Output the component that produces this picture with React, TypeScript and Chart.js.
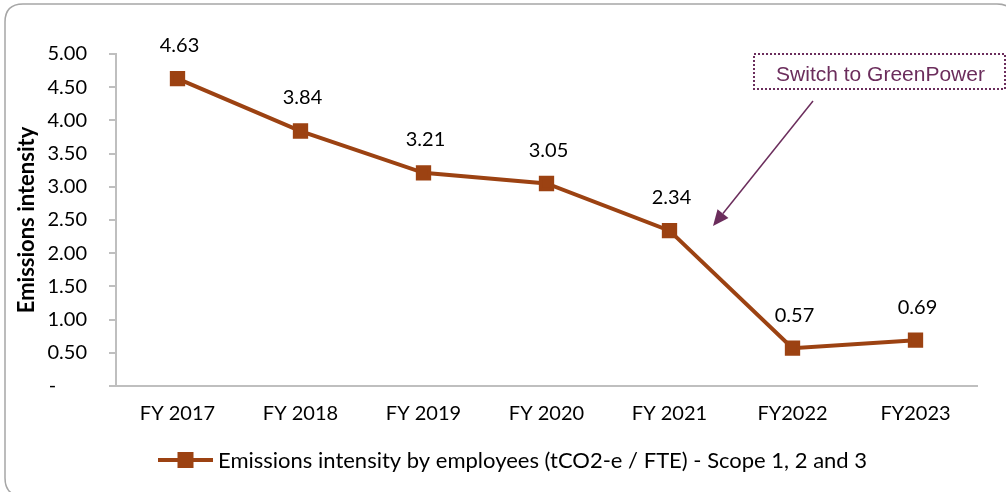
import React, { useEffect, useRef } from "react";
import { Chart, registerables } from "chart.js";

Chart.register(...registerables);

const categories = ["FY 2017", "FY 2018", "FY 2019", "FY 2020", "FY 2021", "FY2022", "FY2023"];
const intensity = [4.63, 3.84, 3.21, 3.05, 2.34, 0.57, 0.69];
const seriesLabel = "Emissions intensity by employees (tCO2-e / FTE) - Scope 1, 2 and 3";
const yTitle = "Emissions intensity";
const annotationText = "Switch to GreenPower";

const LINE = "#9C4212";
const PURPLE = "#6B2D5C";
const FONT = "Lato, 'Open Sans', sans-serif";

const W = 1006;
const H = 492;

const decorPlugin = {
  id: "decor",
  beforeDraw(chart: any) {
    const ctx = chart.ctx;
    ctx.save();
    ctx.fillStyle = "#ffffff";
    ctx.fillRect(0, 0, W, H);
    const x = 5, y = 4, w = 1010, h = 492, r = 18;
    ctx.beginPath();
    ctx.moveTo(x + r, y);
    ctx.lineTo(x + w - r, y);
    ctx.quadraticCurveTo(x + w, y, x + w, y + r);
    ctx.lineTo(x + w, y + h - r);
    ctx.quadraticCurveTo(x + w, y + h, x + w - r, y + h);
    ctx.lineTo(x + r, y + h);
    ctx.quadraticCurveTo(x, y + h, x, y + h - r);
    ctx.lineTo(x, y + r);
    ctx.quadraticCurveTo(x, y, x + r, y);
    ctx.closePath();
    ctx.strokeStyle = "#A6A6A6";
    ctx.lineWidth = 1.5;
    ctx.stroke();
    ctx.restore();
  },
  afterDatasetsDraw(chart: any) {
    const ctx = chart.ctx;
    const meta = chart.getDatasetMeta(0);
    ctx.save();
    ctx.fillStyle = "#000000";
    ctx.font = `20px ${FONT}`;
    ctx.textAlign = "center";
    ctx.textBaseline = "middle";
    meta.data.forEach((pt: any, i: number) => {
      ctx.fillText(intensity[i].toFixed(2), pt.x + 2, pt.y - 33);
    });

    // annotation box
    const bx = 754, by = 54, bw = 251, bh = 35;
    ctx.strokeStyle = PURPLE;
    ctx.lineWidth = 2;
    ctx.setLineDash([2, 2]);
    ctx.strokeRect(bx, by, bw, bh);
    ctx.setLineDash([]);
    ctx.fillStyle = PURPLE;
    ctx.font = `21px 'Liberation Sans', Arial, sans-serif`;
    ctx.textAlign = "center";
    ctx.fillText(annotationText, bx + bw / 2 + 1, by + bh / 2 + 4);

    // arrow
    const x1 = 813, y1 = 101, x2 = 713, y2 = 226;
    const ang = Math.atan2(y2 - y1, x2 - x1);
    const headLen = 16, headW = 7;
    const bxh = x2 - headLen * Math.cos(ang);
    const byh = y2 - headLen * Math.sin(ang);
    ctx.strokeStyle = PURPLE;
    ctx.lineWidth = 1.5;
    ctx.beginPath();
    ctx.moveTo(x1, y1);
    ctx.lineTo(bxh, byh);
    ctx.stroke();
    ctx.beginPath();
    ctx.moveTo(x2, y2);
    ctx.lineTo(bxh + headW * Math.sin(ang), byh - headW * Math.cos(ang));
    ctx.lineTo(bxh - headW * Math.sin(ang), byh + headW * Math.cos(ang));
    ctx.closePath();
    ctx.fill();

    // legend
    const ly = 460;
    ctx.strokeStyle = LINE;
    ctx.lineWidth = 4;
    ctx.beginPath();
    ctx.moveTo(158, ly);
    ctx.lineTo(213, ly);
    ctx.stroke();
    ctx.fillStyle = LINE;
    ctx.fillRect(185.5 - 8, ly - 8, 16, 16);
    ctx.fillStyle = "#000000";
    ctx.font = `22px ${FONT}`;
    ctx.textAlign = "left";
    ctx.fillText(seriesLabel, 218, ly + 1);
    ctx.restore();
  },
};

export default function App() {
  const ref = useRef<HTMLCanvasElement | null>(null);

  useEffect(() => {
    document.body.style.margin = "0";
    const canvas = ref.current!;
    const chart = new Chart(canvas, {
      type: "line",
      data: {
        labels: categories,
        datasets: [
          {
            label: seriesLabel,
            data: intensity,
            borderColor: LINE,
            backgroundColor: LINE,
            borderWidth: 4,
            pointStyle: "rect",
            pointRadius: 8,
            pointHoverRadius: 8,
            pointBackgroundColor: LINE,
            pointBorderColor: LINE,
            tension: 0,
          },
        ],
      },
      options: {
        responsive: false,
        animation: false,
        events: [],
        layout: { padding: { left: 0, right: 29, top: 54, bottom: 0 } },
        plugins: {
          legend: { display: false },
          tooltip: { enabled: false },
        },
        scales: {
          x: {
            offset: true,
            grid: { display: false, drawTicks: false },
            border: { color: "#BFBFBF", width: 2 },
            ticks: { color: "#000", font: { family: FONT, size: 20 }, padding: 16, maxRotation: 0 },
            afterFit: (scale: any) => {
              scale.height = 106;
            },
          },
          y: {
            min: 0,
            max: 5,
            grid: { display: true, drawOnChartArea: false, drawTicks: true, tickLength: 7, color: "#BFBFBF", lineWidth: 2 },
            border: { color: "#BFBFBF", width: 2 },
            ticks: {
              stepSize: 0.5,
              color: "#000",
              padding: 22,
              font: { family: FONT, size: 20 },
              callback: (v: any) => (Number(v) === 0 ? "-      " : Number(v).toFixed(2)),
            },
            title: {
              display: true,
              text: yTitle,
              color: "#000",
              font: { family: FONT, size: 22, weight: "bold" },
              padding: { top: 14, bottom: 0 },
            },
            afterFit: (scale: any) => {
              scale.width = 116;
            },
          },
        },
      },
      plugins: [decorPlugin],
    });
    return () => chart.destroy();
  }, []);

  return (
    <div style={{ position: "fixed", left: 0, top: 0, width: W, height: H }}>
      <canvas ref={ref} width={W} height={H} style={{ width: W, height: H, display: "block" }} />
    </div>
  );
}
